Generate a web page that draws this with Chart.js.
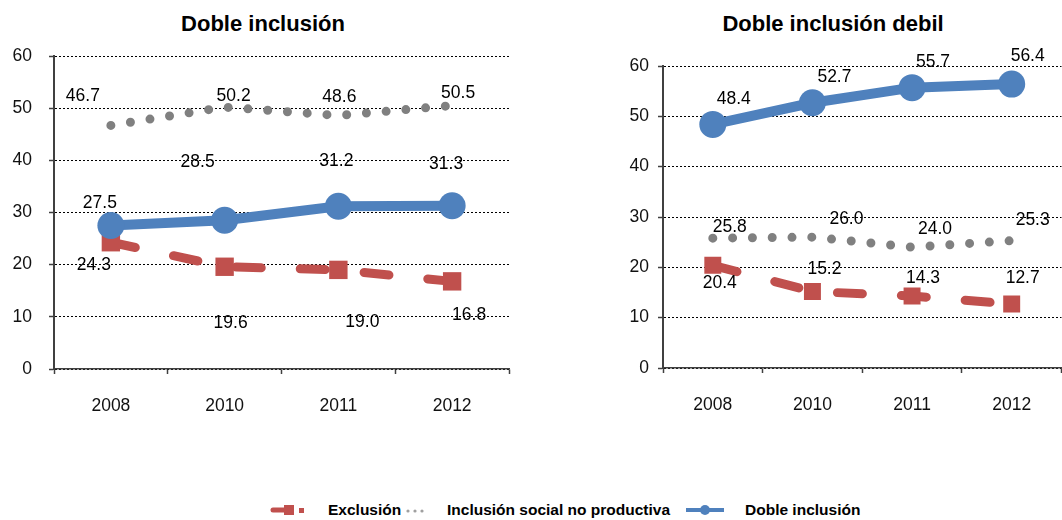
<!DOCTYPE html>
<html>
<head>
<meta charset="utf-8">
<script src="https://cdn.jsdelivr.net/npm/chart.js@4.4.1/dist/chart.umd.min.js"></script>
<style>
  body { margin: 0; width: 1062px; height: 520px; overflow: hidden; background: #fff; position: relative;
         font-family: Arial, "Liberation Sans", sans-serif; }
  canvas { position: absolute; top: 0; }
  #left { left: 0; }
  #right { left: 530px; }
  .title { position: absolute; top: 12px; line-height: 24px; font-size: 22px; font-weight: bold; color: #000;
           white-space: nowrap; transform: translateX(-50%); }
  .leg { position: absolute; top: 500px; line-height: 20px; font-size: 15.5px; font-weight: bold; color: #000; white-space: nowrap; }
  #legicons { position: absolute; left: 0; top: 495px; }
</style>
</head>
<body>
<div class="title" style="left:263px">Doble inclusión</div>
<div class="title" style="left:833px">Doble inclusión debil</div>
<canvas id="left" width="530" height="420"></canvas>
<canvas id="right" width="545" height="420"></canvas>

<svg id="legicons" width="1062" height="30">
  <line x1="273" y1="15" x2="288" y2="15" stroke="#C0504D" stroke-width="5" stroke-linecap="round"/>
  <rect x="284" y="10" width="10" height="10" fill="#C0504D"/>
  <rect x="299" y="13" width="5" height="5" fill="#C0504D"/>
  <circle cx="408" cy="16" r="1.6" fill="#A0A0A0"/>
  <circle cx="415" cy="16" r="1.6" fill="#A0A0A0"/>
  <circle cx="422" cy="16" r="1.6" fill="#A0A0A0"/>
  <line x1="686" y1="15" x2="724" y2="15" stroke="#4F81BD" stroke-width="4"/>
  <circle cx="705" cy="15" r="5" fill="#4F81BD"/>
</svg>
<div class="leg" style="left:328px">Exclusión</div>
<div class="leg" style="left:447px">Inclusión social no productiva</div>
<div class="leg" style="left:745px">Doble inclusión</div>

<script>
// categorias y valores
const years = ['2008', '2010', '2011', '2012'];
const yTicks = [0, 10, 20, 30, 40, 50, 60];

// Doble inclusión
const exclusionA = [24.3, 19.6, 19.0, 16.8];
const socialA = [46.7, 50.2, 48.6, 50.5];
const dobleA = [27.5, 28.5, 31.2, 31.3];

// Doble inclusión debil
const exclusionB = [20.4, 15.2, 14.3, 12.7];
const socialB = [25.8, 26.0, 24.0, 25.3];
const dobleB = [48.4, 52.7, 55.7, 56.4];

const rojo = '#C0504D';
const gris = '#808080';
const azul = '#4F81BD';
const labelFont = '17.5px Arial, "Liberation Sans", sans-serif';

// etiquetas de datos, desplazadas a mano como en Excel
const valueLabels = {
  id: 'valueLabels',
  afterDatasetsDraw(chart, args, opts) {
    const ctx = chart.ctx;
    ctx.save();
    ctx.font = labelFont;
    ctx.fillStyle = '#000';
    ctx.textAlign = 'center';
    ctx.textBaseline = 'middle';
    chart.data.datasets.forEach((ds, i) => {
      const shifts = opts.shifts[i];
      chart.getDatasetMeta(i).data.forEach((pt, j) => {
        const [dx, dy] = shifts[j];
        ctx.fillText(ds.data[j].toFixed(1), pt.x + dx, pt.y + dy);
      });
    });
    ctx.restore();
  }
};

function buildChart(id, exc, soc, dob, cfg) {
  const ctx = document.getElementById(id).getContext('2d');
  return new Chart(ctx, {
    type: 'line',
    data: {
      labels: years,
      datasets: [
        {
          label: 'Exclusión',
          data: exc,
          borderColor: rojo,
          backgroundColor: rojo,
          borderWidth: 9,
          borderDash: [25, 39],
          borderCapStyle: 'round',
          pointStyle: 'rect',
          pointRadius: cfg.squareRadius,
          pointBorderWidth: 0,
          order: 2
        },
        {
          label: 'Inclusión social no productiva',
          data: soc,
          borderColor: gris,
          borderWidth: 9,
          borderDash: [0, 19.8],
          borderCapStyle: 'round',
          pointRadius: 0,
          order: 1
        },
        {
          label: 'Doble inclusión',
          data: dob,
          borderColor: azul,
          backgroundColor: azul,
          borderWidth: 10,
          pointStyle: 'circle',
          pointRadius: 13.5,
          pointBorderWidth: 0,
          order: 0
        }
      ]
    },
    options: {
      responsive: false,
      animation: false,
      events: [],
      layout: { padding: cfg.padding },
      scales: {
        x: {
          offset: true,
          afterFit: s => { s.height = cfg.xHeight; },
          grid: { offset: true, drawOnChartArea: false, tickLength: 5, tickColor: '#404040', tickWidth: 1.5 },
          border: { color: '#404040', width: 1.5 },
          ticks: { color: '#111', font: { family: 'Arial, "Liberation Sans"', size: 17.5 }, padding: cfg.xPad }
        },
        y: {
          min: 0,
          max: 60,
          afterFit: s => { s.width = 54; },
          afterBuildTicks: s => { s.ticks = yTicks.map(v => ({ value: v })); },
          grid: { color: '#000', lineWidth: 1, tickLength: 5, tickColor: '#404040', tickWidth: 1.5 },
          border: { color: '#404040', width: 2, dash: [2, 2] },
          ticks: { color: '#111', font: { family: 'Arial, "Liberation Sans"', size: 17.5 }, padding: cfg.yPad }
        }
      },
      plugins: {
        legend: { display: false },
        tooltip: { enabled: false },
        valueLabels: { shifts: cfg.shifts }
      }
    },
    plugins: [valueLabels]
  });
}

buildChart('left', exclusionA, socialA, dobleA, {
  padding: { top: 56, left: 0, right: 21, bottom: 0 },
  xHeight: 51,
  xPad: 22,
  yPad: 17,
  squareRadius: 13,
  shifts: [
    [[-17, 23], [6, 56], [24, 52], [17, 34]],
    [[-28, -29], [9, -11], [1, -18], [6, -12]],
    [[-11, -22], [-27, -58], [-2, -45], [-6, -42]]
  ]
});

buildChart('right', exclusionB, socialB, dobleB, {
  padding: { top: 66, left: 79, right: 4, bottom: 0 },
  xHeight: 52,
  xPad: 22,
  yPad: 9,
  squareRadius: 12,
  shifts: [
    [[7, 18], [12, -22], [11, -18], [11, -26]],
    [[17, -11], [34, -18], [23, -18], [21, -20]],
    [[21, -25], [22, -26], [21, -25], [16, -28]]
  ]
});
</script>
</body>
</html>
